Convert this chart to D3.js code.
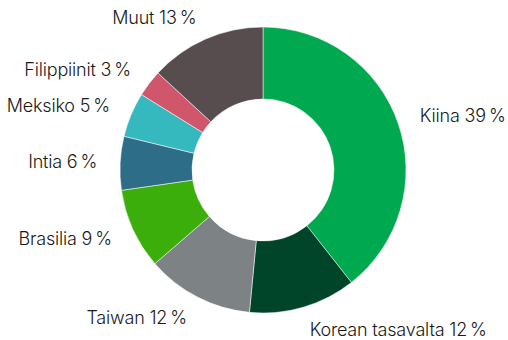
<!DOCTYPE html>
<html>
<head>
<meta charset="utf-8">
<script src="https://cdn.jsdelivr.net/npm/d3@7"></script>
<style>
  html, body { margin: 0; padding: 0; background: #fff; }
  svg { display: block; }
  text { font-family: Inter, "Noto Sans", sans-serif; font-size: 18px; fill: #1a1a1a; font-weight: 300; letter-spacing: -0.2px; }
</style>
</head>
<body>
<svg id="chart" width="508" height="340"></svg>
<script>
// Share of production by country (%)
const countries = ["Kiina", "Korean tasavalta", "Taiwan", "Brasilia", "Intia", "Meksiko", "Filippiinit", "Muut"];
const shares = [39, 12, 12, 9, 6, 5, 3, 13];
const colors = ["#00a94f", "#00452a", "#7d8285", "#3bae0b", "#2e6d87", "#35b9bf", "#d0566c", "#574d4e"];

const width = 508, height = 340;
const cx = 263, cy = 170;
const outerR = 143, innerR = 71, labelR = 166;

const svg = d3.select("#chart");
const g = svg.append("g").attr("transform", `translate(${cx},${cy})`);

const data = countries.map((c, i) => ({ name: c, value: shares[i], color: colors[i] }));

const pie = d3.pie().value(d => d.value).sort(null);
const arc = d3.arc().innerRadius(innerR).outerRadius(outerR);
const labelArc = d3.arc().innerRadius(labelR).outerRadius(labelR);

const arcs = pie(data);

g.selectAll("path.slice")
  .data(arcs)
  .enter().append("path")
  .attr("class", "slice")
  .attr("d", arc)
  .attr("fill", d => d.data.color)
  .attr("stroke", "#fff")
  .attr("stroke-width", 0.5);

g.selectAll("text.label")
  .data(arcs)
  .enter().append("text")
  .attr("class", "label")
  .attr("transform", d => `translate(${labelArc.centroid(d)})`)
  .attr("text-anchor", d => ((d.startAngle + d.endAngle) / 2 < Math.PI ? "start" : "end"))
  .attr("dy", "0.35em")
  .text(d => `${d.data.name} ${d.data.value}\u2009%`);
</script>
</body>
</html>
